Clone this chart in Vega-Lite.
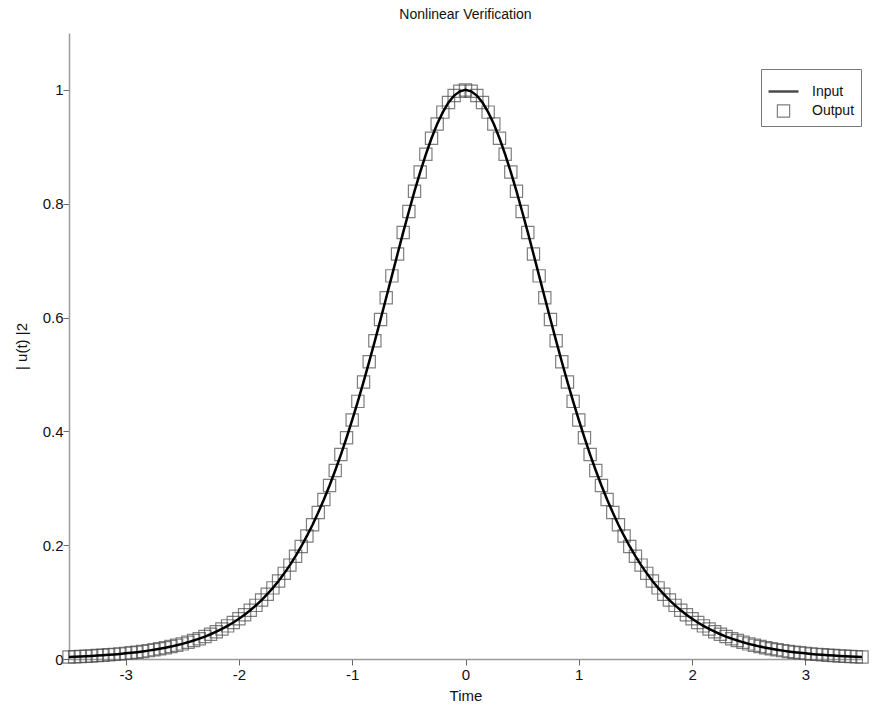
{
  "$schema": "https://vega.github.io/schema/vega-lite/v6.json",
  "autosize": {"type": "none"},
  "width": 793,
  "height": 626,
  "padding": {"left": 69, "top": 33, "right": 13, "bottom": 49},
  "background": "white",
  "config": {
    "font": "Liberation Sans",
    "view": {"stroke": null},
    "axis": {
      "domainColor": "#9a9a9a",
      "domainWidth": 1.5,
      "tickColor": "#666666",
      "tickSize": 6,
      "labelFontSize": 15,
      "labelColor": "#111111",
      "titleFontSize": 15,
      "titleFontWeight": "normal",
      "titleColor": "#111111",
      "grid": false
    },
    "legend": {
      "orient": "none", "legendX": 692, "legendY": 36,
      "strokeColor": "#777777", "fillColor": "white", "padding": 6,
      "labelFontSize": 14, "labelColor": "#111111", "rowPadding": 3, "labelOffset": 12
    }
  },
  "title": {"text": "Nonlinear Verification", "fontSize": 14, "fontWeight": "normal", "color": "#111111", "offset": 11, "anchor": "middle"},
  "data": {"values": [
    {"t": -3.5, "v": 0.0036}, {"t": -3.45, "v": 0.0040}, {"t": -3.4, "v": 0.0044}, {"t": -3.35, "v": 0.0049}, {"t": -3.3, "v": 0.0054},
    {"t": -3.25, "v": 0.0060}, {"t": -3.2, "v": 0.0066}, {"t": -3.15, "v": 0.0073}, {"t": -3.1, "v": 0.0081}, {"t": -3.05, "v": 0.0089},
    {"t": -3.0, "v": 0.0099}, {"t": -2.95, "v": 0.0109}, {"t": -2.9, "v": 0.0120}, {"t": -2.85, "v": 0.0133}, {"t": -2.8, "v": 0.0147},
    {"t": -2.75, "v": 0.0162}, {"t": -2.7, "v": 0.0179}, {"t": -2.65, "v": 0.0198}, {"t": -2.6, "v": 0.0218}, {"t": -2.55, "v": 0.0241},
    {"t": -2.5, "v": 0.0266}, {"t": -2.45, "v": 0.0293}, {"t": -2.4, "v": 0.0324}, {"t": -2.35, "v": 0.0357}, {"t": -2.3, "v": 0.0394},
    {"t": -2.25, "v": 0.0435}, {"t": -2.2, "v": 0.0479}, {"t": -2.15, "v": 0.0528}, {"t": -2.1, "v": 0.0582}, {"t": -2.05, "v": 0.0641},
    {"t": -2.0, "v": 0.0707}, {"t": -1.95, "v": 0.0778}, {"t": -1.9, "v": 0.0856}, {"t": -1.85, "v": 0.0942}, {"t": -1.8, "v": 0.1036},
    {"t": -1.75, "v": 0.1138}, {"t": -1.7, "v": 0.1250}, {"t": -1.65, "v": 0.1372}, {"t": -1.6, "v": 0.1505}, {"t": -1.55, "v": 0.1650},
    {"t": -1.5, "v": 0.1807}, {"t": -1.45, "v": 0.1977}, {"t": -1.4, "v": 0.2162}, {"t": -1.35, "v": 0.2360}, {"t": -1.3, "v": 0.2574},
    {"t": -1.25, "v": 0.2804}, {"t": -1.2, "v": 0.3050}, {"t": -1.15, "v": 0.3313}, {"t": -1.1, "v": 0.3592}, {"t": -1.05, "v": 0.3888},
    {"t": -1.0, "v": 0.4200}, {"t": -0.95, "v": 0.4527}, {"t": -0.9, "v": 0.4869}, {"t": -0.85, "v": 0.5224}, {"t": -0.8, "v": 0.5591},
    {"t": -0.75, "v": 0.5966}, {"t": -0.7, "v": 0.6347}, {"t": -0.65, "v": 0.6732}, {"t": -0.6, "v": 0.7116}, {"t": -0.55, "v": 0.7496},
    {"t": -0.5, "v": 0.7864}, {"t": -0.45, "v": 0.8220}, {"t": -0.4, "v": 0.8556}, {"t": -0.35, "v": 0.8869}, {"t": -0.3, "v": 0.9151},
    {"t": -0.25, "v": 0.9400}, {"t": -0.2, "v": 0.9610}, {"t": -0.15, "v": 0.9778}, {"t": -0.1, "v": 0.9901}, {"t": -0.05, "v": 0.9975},
    {"t": 0.0, "v": 1.0},
    {"t": 0.05, "v": 0.9975}, {"t": 0.1, "v": 0.9901}, {"t": 0.15, "v": 0.9778}, {"t": 0.2, "v": 0.9610}, {"t": 0.25, "v": 0.9400},
    {"t": 0.3, "v": 0.9151}, {"t": 0.35, "v": 0.8869}, {"t": 0.4, "v": 0.8556}, {"t": 0.45, "v": 0.8220}, {"t": 0.5, "v": 0.7864},
    {"t": 0.55, "v": 0.7496}, {"t": 0.6, "v": 0.7116}, {"t": 0.65, "v": 0.6732}, {"t": 0.7, "v": 0.6347}, {"t": 0.75, "v": 0.5966},
    {"t": 0.8, "v": 0.5591}, {"t": 0.85, "v": 0.5224}, {"t": 0.9, "v": 0.4869}, {"t": 0.95, "v": 0.4527}, {"t": 1.0, "v": 0.4200},
    {"t": 1.05, "v": 0.3888}, {"t": 1.1, "v": 0.3592}, {"t": 1.15, "v": 0.3313}, {"t": 1.2, "v": 0.3050}, {"t": 1.25, "v": 0.2804},
    {"t": 1.3, "v": 0.2574}, {"t": 1.35, "v": 0.2360}, {"t": 1.4, "v": 0.2162}, {"t": 1.45, "v": 0.1977}, {"t": 1.5, "v": 0.1807},
    {"t": 1.55, "v": 0.1650}, {"t": 1.6, "v": 0.1505}, {"t": 1.65, "v": 0.1372}, {"t": 1.7, "v": 0.1250}, {"t": 1.75, "v": 0.1138},
    {"t": 1.8, "v": 0.1036}, {"t": 1.85, "v": 0.0942}, {"t": 1.9, "v": 0.0856}, {"t": 1.95, "v": 0.0778}, {"t": 2.0, "v": 0.0707},
    {"t": 2.05, "v": 0.0641}, {"t": 2.1, "v": 0.0582}, {"t": 2.15, "v": 0.0528}, {"t": 2.2, "v": 0.0479}, {"t": 2.25, "v": 0.0435},
    {"t": 2.3, "v": 0.0394}, {"t": 2.35, "v": 0.0357}, {"t": 2.4, "v": 0.0324}, {"t": 2.45, "v": 0.0293}, {"t": 2.5, "v": 0.0266},
    {"t": 2.55, "v": 0.0241}, {"t": 2.6, "v": 0.0218}, {"t": 2.65, "v": 0.0198}, {"t": 2.7, "v": 0.0179}, {"t": 2.75, "v": 0.0162},
    {"t": 2.8, "v": 0.0147}, {"t": 2.85, "v": 0.0133}, {"t": 2.9, "v": 0.0120}, {"t": 2.95, "v": 0.0109}, {"t": 3.0, "v": 0.0099},
    {"t": 3.05, "v": 0.0089}, {"t": 3.1, "v": 0.0081}, {"t": 3.15, "v": 0.0073}, {"t": 3.2, "v": 0.0066}, {"t": 3.25, "v": 0.0060},
    {"t": 3.3, "v": 0.0054}, {"t": 3.35, "v": 0.0049}, {"t": 3.4, "v": 0.0044}, {"t": 3.45, "v": 0.0040}, {"t": 3.5, "v": 0.0036}
  ]},
  "encoding": {
    "x": {"field": "t", "type": "quantitative",
      "scale": {"domain": [-3.5, 3.5], "nice": false, "zero": false},
      "axis": {"title": "Time", "values": [-3, -2, -1, 0, 1, 2, 3], "labelExpr": "'' + datum.value", "labelPadding": 2, "titlePadding": 6,
        "encode": {"ticks": {"y2": {"value": -6}}}}},
    "y": {"field": "v", "type": "quantitative",
      "scale": {"domain": [0, 1.1], "nice": false},
      "axis": {"title": "| u(t) |2", "values": [0, 0.2, 0.4, 0.6, 0.8, 1], "format": ".1~f", "labelPadding": 0, "titlePadding": 13,
        "encode": {"ticks": {"x2": {"value": 6}}}}}
  },
  "layer": [
    {
      "mark": {"type": "point", "filled": false, "clip": false},
      "encoding": {
        "color": {"datum": "Output", "type": "nominal",
          "scale": {"domain": ["Input", "Output"], "range": ["#000000", "#4a4a4a"]},
          "legend": {"title": null}},
        "shape": {"datum": "Output", "type": "nominal",
          "scale": {"domain": ["Input", "Output"], "range": ["stroke", "square"]},
          "legend": {"title": null}},
        "size": {"datum": "Output", "type": "ordinal",
          "scale": {"domain": ["Input", "Output"], "range": [900, 150]},
          "legend": {"title": null}},
        "strokeWidth": {"datum": "Output", "type": "ordinal",
          "scale": {"domain": ["Input", "Output"], "range": [2.5, 1.2]},
          "legend": {"title": null}}
      }
    },
    {
      "mark": {"type": "line", "clip": false},
      "encoding": {
        "color": {"datum": "Input", "type": "nominal", "legend": {"title": null}},
        "strokeWidth": {"datum": "Input", "type": "ordinal", "legend": {"title": null}}
      }
    }
  ]
}
